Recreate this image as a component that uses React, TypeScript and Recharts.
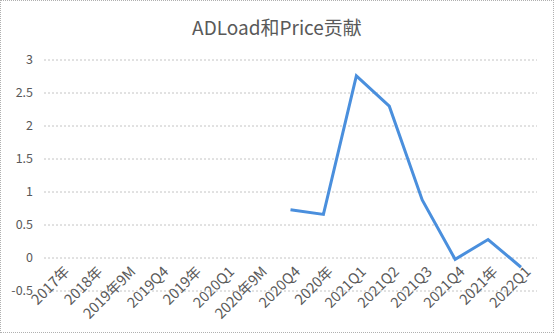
import React from 'react';
import { LineChart, Line, XAxis, YAxis, CartesianGrid } from 'recharts';

const categories = [
  '2017年', '2018年', '2019年9M', '2019Q4', '2019年', '2020Q1', '2020年9M', '2020Q4',
  '2020年', '2021Q1', '2021Q2', '2021Q3', '2021Q4', '2021年', '2022Q1',
];
const contribution: (number | null)[] = [
  null, null, null, null, null, null, null, 0.73, 0.66, 2.76, 2.3, 0.88, -0.02, 0.28, -0.14,
];
const yTicks = [-0.5, 0, 0.5, 1, 1.5, 2, 2.5, 3];

const data = categories.map((name, i) => ({ name, value: contribution[i] }));

const FONT = "'Microsoft YaHei', 'Noto Sans CJK SC', 'Noto Sans', sans-serif";

const AngledTick = ({ x, y, payload }: { x?: number; y?: number; payload?: { value: string } }) => {
  const px = (x ?? 0) + 1;
  const py = (y ?? 0) - 36;
  return (
    <text
      x={px}
      y={py}
      transform={`rotate(-45, ${px}, ${py})`}
      textAnchor="end"
      dominantBaseline="hanging"
      fill="#595959"
      fontSize={14.5}
      fontFamily={FONT}
    >
      {payload?.value}
    </text>
  );
};

export default function App() {
  return (
    <div
      style={{
        position: 'fixed',
        left: 0,
        top: 0,
        width: 554,
        height: 333,
        background: '#fff',
        boxSizing: 'border-box',
        border: '1px dotted #b0b0b0',
        fontFamily: FONT,
      }}
    >
      <div
        style={{
          position: 'absolute',
          top: 12,
          left: 0,
          width: '100%',
          textAlign: 'center',
          fontSize: 19,
          color: '#595959',
        }}
      >
        ADLoad和Price贡献
      </div>
      <LineChart
        width={552}
        height={331}
        data={data}
        margin={{ top: 59, right: 16, bottom: 0, left: 0 }}
        style={{ position: 'absolute', left: 0, top: 0 }}
      >
        <CartesianGrid vertical={false} stroke="#c4c4c4" strokeDasharray="2 2" />
        <XAxis
          dataKey="name"
          interval={0}
          axisLine={false}
          tickLine={false}
          height={41}
          padding={{ left: 16, right: 16 }}
          tick={<AngledTick />}
        />
        <YAxis
          domain={[-0.5, 3]}
          ticks={yTicks}
          axisLine={false}
          tickLine={false}
          tickSize={0}
          tickMargin={11}
          width={43}
          tick={{ fill: '#595959', fontSize: 12.5, fontFamily: FONT }}
        />
        <Line
          type="linear"
          dataKey="value"
          stroke="#4a8fdd"
          strokeWidth={3}
          dot={false}
          connectNulls={false}
          isAnimationActive={false}
        />
      </LineChart>
    </div>
  );
}
